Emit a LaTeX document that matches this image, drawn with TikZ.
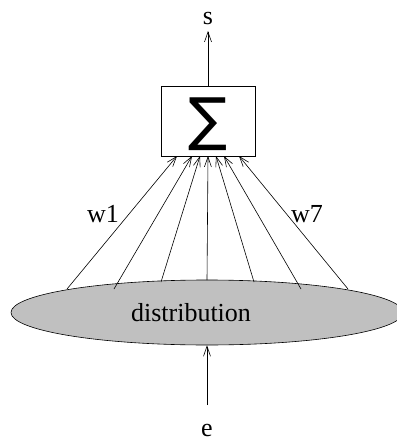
\documentclass[tikz,border=0pt]{standalone}
\usepackage{fontspec}
\setmainfont{Liberation Serif}
\newfontfamily\symfont{DejaVu Sans}
\usetikzlibrary{arrows.meta,shapes.geometric}
\definecolor{figgray}{RGB}{192,192,192}
\begin{document}
\begin{tikzpicture}[x=1pt,y=-1pt,
  conn/.style={line width=0.6pt,-{Straight Barb[length=10pt,width=7pt,line width=0.6pt]}},
  wire/.style={line width=0.6pt},
  lbl/.style={inner sep=0pt,font=\fontsize{26}{28}\selectfont}]
\useasboundingbox (0,0) rectangle (396,441);
% summation box
\node[draw,line width=0.6pt,minimum width=94pt,minimum height=70pt,inner sep=0pt] (sum) at (208,121) {};
\node[inner sep=0pt,font=\symfont\fontsize{58}{58}\selectfont] (sig) at (208,124) {∑};
% distribution ellipse
\node[ellipse,draw,fill=figgray,line width=0.6pt,minimum width=392pt,minimum height=65pt,inner sep=0pt] (dist) at (207,312.5) {};
\node[lbl] (dtext) at (191,313) {distribution};
% output
\coordinate (stop) at (208,31);
\draw[conn] (sum.north) -- (stop);
\node[lbl,anchor=base] (s) at (208,25) {s};
% input
\coordinate (ebot) at (207,405);
\draw[conn] (ebot) -- (dist.south);
\node[lbl,anchor=base] (e) at (207,436) {e};
% weight lines
\coordinate (a1) at (67,289);  \coordinate (b1) at (177,156);
\coordinate (a2) at (114,289); \coordinate (b2) at (192,156);
\coordinate (a3) at (161,282); \coordinate (b3) at (200,156);
\coordinate (a4) at (207,280); \coordinate (b4) at (208,156);
\coordinate (a5) at (254,282); \coordinate (b5) at (216,156);
\coordinate (a6) at (301,289); \coordinate (b6) at (224,156);
\coordinate (a7) at (348,289); \coordinate (b7) at (239,156);
\foreach \i in {1,...,7}{\draw[conn] (a\i) -- (b\i);}
\node[lbl] (w1) at (103,214) {w1};
\node[lbl] (w7) at (307,214) {w7};
\end{tikzpicture}
\end{document}
